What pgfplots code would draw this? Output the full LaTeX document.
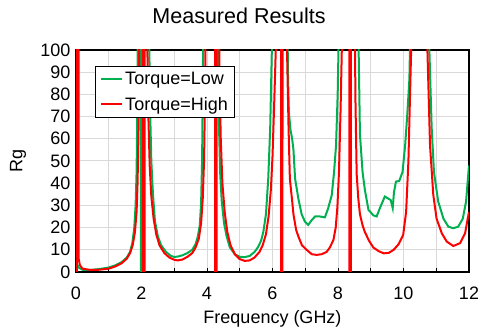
\documentclass[border=0pt]{standalone}
\usepackage{fontspec}
\setmainfont{Liberation Sans}
\usepackage{pgfplots}
\pgfplotsset{compat=1.18}
\definecolor{lowgreen}{RGB}{0,176,80}
\definecolor{highred}{RGB}{255,0,0}
\definecolor{gridgray}{RGB}{217,217,217}
\begin{document}
\begin{tikzpicture}
\useasboundingbox (-76bp,-57bp) rectangle (402bp,272bp);
\begin{axis}[
  at={(0,0)}, anchor=south west,
  scale only axis, width=393bp, height=222bp,
  xmin=0, xmax=12, ymin=0, ymax=100,
  xtick={0,2,...,12}, minor xtick={1,3,...,11},
  ytick={0,10,...,100},
  xtick pos=bottom, ytick pos=left,
  tick align=inside,
  major tick length=4bp, minor tick length=4bp,
  ytick style={draw=none},
  xtick style={black, line width=1bp},
  minor tick style={black, line width=1bp},
  grid=both,
  major grid style={gridgray, line width=1bp},
  minor grid style={gridgray, line width=1bp},
  axis line style={black, line width=1.75bp},
  font=\fontsize{18bp}{21bp}\selectfont,
  /pgf/number format/assume math mode=true,
  xticklabel style={anchor=base, yshift=-28bp},
  yticklabel style={anchor=east, xshift=-2bp},
  title={Measured Results},
  title style={at={(axis description cs:0.415,1)}, anchor=base, yshift=20.7bp, font=\fontsize{21.5bp}{25bp}\selectfont},
  xlabel={Frequency (GHz)},
  xlabel style={at={(axis description cs:0.5,0)}, anchor=base, yshift=-52bp, font=\fontsize{18bp}{21bp}\selectfont},
  ylabel={Rg},
  ylabel style={at={(axis description cs:-0.1476,0.5)}, anchor=center, font=\fontsize{18bp}{21bp}\selectfont},
  legend style={at={(axis description cs:0.048,0.928)}, anchor=north west,
    draw=black, line width=0.75bp, fill=white, inner xsep=5bp, inner ysep=4bp,
    row sep=7bp, font=\fontsize{18bp}{21bp}\selectfont},
  legend cell align=left,
  legend image code/.code={\draw[#1, line width=2bp] (0bp,0bp) -- (21bp,0bp);},
]
\addplot[lowgreen, line width=2bp] coordinates {
(0.02,4) (0.08,2) (0.2,1) (0.5,1) (0.8,1.5) (1.0,2) (1.2,3) (1.4,4.5) (1.55,6.5) (1.65,9) (1.72,13) (1.78,20) (1.82,30) (1.85,45) (1.87,70) (1.89,110) (1.91,200)
(1.98,1000) (1.985,-1000) (2.0,-1000) (2.005,1000)
(2.21,200) (2.24,100) (2.26,75) (2.30,50) (2.35,35) (2.41,23) (2.5,16) (2.6,12) (2.75,9) (2.9,7.2) (3.0,6.8) (3.1,6.9) (3.25,7.5) (3.4,8.5) (3.55,10) (3.65,12.5) (3.72,16) (3.78,21) (3.82,31) (3.85,50) (3.87,80) (3.89,120) (3.92,200)
(4.31,200) (4.33,110) (4.36,70) (4.40,45) (4.45,32) (4.52,22) (4.6,16) (4.7,11) (4.85,8) (5.0,6.8) (5.15,6.7) (5.3,7.2) (5.45,9) (5.55,11) (5.65,14) (5.72,18) (5.80,26) (5.87,42) (5.93,65) (5.98,100) (6.01,150)
(6.44,150) (6.47,90) (6.50,72) (6.55,64) (6.60,60) (6.64,55) (6.69,42) (6.79,33) (6.89,26) (6.99,22.7) (7.09,21.2) (7.2,23.4) (7.3,25) (7.45,25) (7.6,24.6) (7.7,28.7) (7.81,34.7) (7.88,45) (7.94,57) (7.99,80) (8.04,120) (8.07,200)
(8.60,200) (8.63,100) (8.67,62) (8.75,45) (8.82,37) (8.93,28) (9.08,25.5) (9.18,25) (9.28,28.8) (9.43,34) (9.54,33) (9.61,32.4) (9.67,28.8) (9.71,36) (9.77,40.7) (9.87,41) (9.97,45) (10.05,57) (10.12,72) (10.18,87) (10.21,110) (10.24,200)
(10.76,200) (10.79,100) (10.86,65) (10.93,45) (11.06,31.7) (11.22,24) (11.37,20.4) (11.52,19.7) (11.67,20.4) (11.81,24) (11.91,31.7) (12.0,48)
};
\addlegendentry{Torque=Low}
\addplot[highred, line width=2bp] coordinates {
(0.02,-1000) (0.03,1000) (0.07,1000) (0.08,6) (0.12,3) (0.2,1.5) (0.4,1) (0.7,1) (1.0,1.5) (1.2,2.5) (1.4,4) (1.55,6) (1.65,8.5) (1.73,12) (1.8,18) (1.85,27) (1.88,40) (1.91,65) (1.93,100) (1.95,150)
(2.04,1000) (2.05,-1000) (2.09,-1000) (2.10,1000)
(2.16,150) (2.18,100) (2.21,70) (2.25,48) (2.30,34) (2.37,24) (2.45,17) (2.55,12) (2.7,8.5) (2.85,6.5) (3.0,5.5) (3.1,5.2) (3.25,5.6) (3.4,6.8) (3.55,8.5) (3.65,11) (3.75,15) (3.82,22) (3.87,33) (3.91,50) (3.94,80) (3.96,110) (4.0,200)
(4.24,1000) (4.25,-1000) (4.29,-1000) (4.30,1000)
(4.35,150) (4.38,90) (4.42,60) (4.47,40) (4.54,27) (4.62,18) (4.72,12) (4.85,8) (5.0,5.8) (5.15,5.0) (5.3,5.2) (5.45,6.5) (5.6,9) (5.7,12) (5.8,17) (5.88,25) (5.95,37) (6.0,52) (6.05,75) (6.1,100) (6.13,150)
(6.26,1000) (6.27,-1000) (6.30,-1000) (6.31,1000)
(6.42,150) (6.45,95) (6.49,65) (6.53,42) (6.6,32) (6.64,26) (6.72,19) (6.79,16) (6.9,12) (7.04,10) (7.2,8) (7.35,7.7) (7.5,8) (7.65,9) (7.75,11) (7.86,14.4) (7.93,20) (7.98,29) (8.03,45) (8.08,74) (8.13,110) (8.17,200)
(8.34,1000) (8.35,-1000) (8.39,-1000) (8.40,1000)
(8.50,150) (8.53,80) (8.57,44) (8.62,33) (8.67,26) (8.75,21) (8.82,18) (8.95,14) (9.08,11) (9.25,9.3) (9.4,8.4) (9.55,8.6) (9.7,10) (9.85,12.5) (9.99,16.7) (10.08,27) (10.15,50) (10.2,80) (10.25,110) (10.28,200)
(10.70,200) (10.73,100) (10.81,57) (10.91,34.7) (11.01,24) (11.17,17.4) (11.32,13.7) (11.52,11.7) (11.73,13) (11.88,17.4) (11.96,24) (12.0,27)
};
\addlegendentry{Torque=High}
\end{axis}
\end{tikzpicture}
\end{document}
